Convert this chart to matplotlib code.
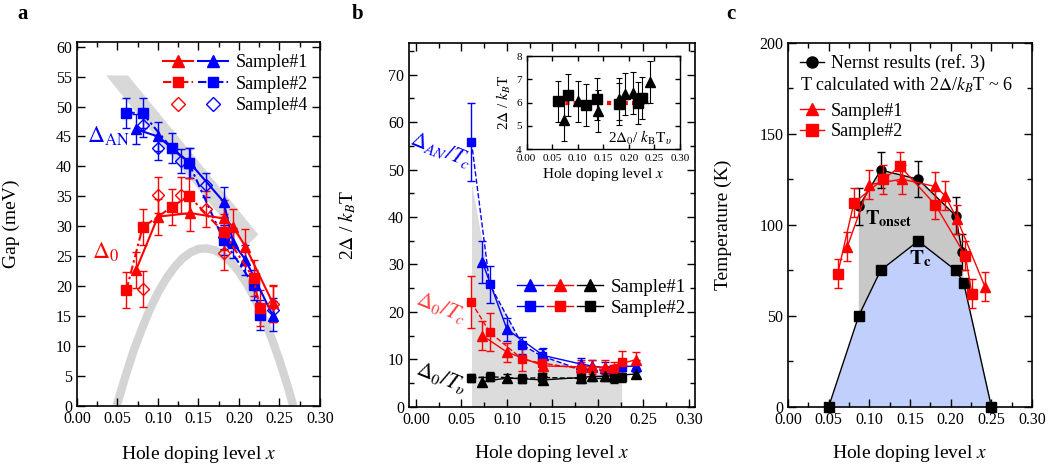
import numpy as np
import matplotlib
matplotlib.use('Agg')
import matplotlib.pyplot as plt
from matplotlib.lines import Line2D
from matplotlib.legend_handler import HandlerTuple
from matplotlib.ticker import MultipleLocator

plt.rcParams['font.family'] = ['Liberation Serif', 'DejaVu Serif']
plt.rcParams['mathtext.fontset'] = 'stix'

# ---------------- data ----------------
x_s1 = [0.073, 0.100, 0.140, 0.181, 0.193, 0.208, 0.242]
x_s2 = [0.061, 0.081, 0.117, 0.138, 0.181, 0.218, 0.226]
x_s4 = [0.081, 0.100, 0.129, 0.159, 0.181, 0.242]

# panel a: gaps (meV)
gapAN_s1 = [46.2, 45.0, 40.5, 34.1, 27.2, 24.4, 15.0]
gapAN_s2 = [49.0, 48.9, 43.0, 40.6, 27.7, 20.2, 15.2]
gapAN_s4 = [46.9, 43.0, 40.9, 36.9, 28.2, 16.0]
gap0_s1 = [22.7, 31.6, 32.2, 31.3, 29.9, 26.6, 17.1]
gap0_s2 = [19.3, 29.8, 33.2, 35.1, 29.0, 21.3, 16.3]
gap0_s4 = [19.5, 35.2, 35.2, 32.9, 25.6, 17.0]
err_blue_a = 2.5
err_red_a = 3.0

# grey guide stripe (Delta_AN trend) and dome (Delta_0 trend) in panel a
stripe_x = [0.036, 0.063, 0.224, 0.208]
stripe_y = [55.2, 55.2, 28.6, 26.5]
dome_x = [0.049, 0.06, 0.07, 0.08, 0.09, 0.10, 0.11, 0.12, 0.13, 0.14, 0.15, 0.16,
          0.17, 0.18, 0.19, 0.20, 0.21, 0.22, 0.23, 0.24, 0.25, 0.26, 0.267]
dome_y = [0.0, 5.0, 9.2, 12.8, 16.1, 18.9, 21.2, 23.1, 24.6, 25.6, 26.2, 26.3,
          26.0, 25.2, 24.0, 22.4, 20.3, 17.8, 14.8, 11.4, 7.6, 3.3, 0.0]

# panel b: 2Delta/kBT ratios
rAN_s1 = [30.5, 16.3, 10.8, 9.0, 8.6, 8.2, 8.6]
rAN_s1_err = [4.5, 2.4, 1.5, 1.3, 1.3, 1.3, 1.3]
rAN_s2 = [55.8, 25.8, 13.0, 10.7, 7.8, 7.6, 8.4]
rAN_s2_err = [8.2, 3.9, 1.8, 1.5, 1.2, 1.2, 1.2]
r0_s1 = [15.0, 11.5, 8.6, 8.4, 8.4, 8.3, 9.9]
r0_s1_err = [3.0, 2.0, 1.5, 1.5, 1.5, 1.5, 1.7]
r0_s2 = [22.0, 15.7, 10.0, 9.2, 8.0, 7.9, 9.5]
r0_s2_err = [5.5, 4.0, 2.5, 1.5, 1.5, 1.5, 2.3]
rv_s1 = [5.27, 6.05, 5.65, 6.15, 6.38, 6.42, 6.9]
rv_s2 = [6.05, 6.33, 5.92, 6.17, 5.95, 5.97, 6.2]
rv_err = 0.9
ratio_ref = 6.0
ratio_ref_x = [0.06, 0.24]

# panel c: temperatures (K)
x_nernst = [0.087, 0.114, 0.160, 0.206, 0.214]
T_nernst = [110, 130, 125, 105, 85]
x_tc = [0.05, 0.087, 0.114, 0.160, 0.206, 0.216, 0.25]
T_tc = [0, 50, 75, 91, 75, 68, 0]
T_s1 = [88, 122, 125, 121, 116, 103, 66]
T_s2 = [73, 112, 125, 132, 111, 83, 62]
err_T = 8
err_nernst = 10

RED = '#ff0000'
BLUE = '#0000ff'

fig = plt.figure(figsize=(10.5, 4.73), dpi=100)
axa = fig.add_axes([0.0733, 0.1423, 0.2314, 0.769])
axb = fig.add_axes([0.3895, 0.1402, 0.2724, 0.7689])
axc = fig.add_axes([0.7505, 0.1402, 0.2324, 0.7695])
axi = fig.add_axes([0.5016, 0.6843, 0.1460, 0.1973])

def style(ax, size=11.5, major=6, minor=3.5):
    ax.tick_params(which='both', direction='in', top=True, right=True,
                   labelsize=size, width=1)
    ax.tick_params(which='major', length=major)
    ax.tick_params(which='minor', length=minor)
    for s in ax.spines.values():
        s.set_linewidth(1.2)

ebkw = dict(capsize=3, elinewidth=1, capthick=1)
dashdot = (0, (4, 1.5, 1.2, 1.5))

# ---------------- panel a ----------------
ax = axa
ax.fill(stripe_x, stripe_y, color='#d8d8d8', lw=0, zorder=0)
ax.plot(dome_x, dome_y, color='#d4d4d4', lw=6, zorder=0, solid_capstyle='butt')
ax.errorbar(x_s1, gapAN_s1, yerr=err_blue_a, color=BLUE, marker='^', ms=7, lw=1.5, **ebkw)
ax.errorbar(x_s2, gapAN_s2, yerr=err_blue_a, color=BLUE, marker='s', ms=6.5, lw=1.5,
            ls=dashdot, **ebkw)
ax.errorbar(x_s4, gapAN_s4, yerr=2.0, color=BLUE, marker='D', ms=6, mfc='none', ls='none', **ebkw)
ax.errorbar(x_s1, gap0_s1, yerr=err_red_a, color=RED, marker='^', ms=7, lw=1.5, **ebkw)
ax.errorbar(x_s2, gap0_s2, yerr=err_red_a, color=RED, marker='s', ms=6.5, lw=1.5,
            ls=dashdot, **ebkw)
ax.errorbar(x_s4, gap0_s4, yerr=err_red_a, color=RED, marker='D', ms=6, mfc='none', ls='none', **ebkw)
ax.text(0.012, 45, r'$\Delta_{\mathrm{AN}}$', color=BLUE, fontsize=17, ha='left', va='center')
ax.text(0.019, 25.7, r'$\Delta_{0}$', color=RED, fontsize=17, ha='left', va='center')
ax.set_xlim(0, 0.3)
ax.set_ylim(0, 60.8)
ax.xaxis.set_major_locator(MultipleLocator(0.05))
ax.xaxis.set_minor_locator(MultipleLocator(0.025))
ax.yaxis.set_major_locator(MultipleLocator(5))
ax.xaxis.set_major_formatter(matplotlib.ticker.FormatStrFormatter('%.2f'))
style(ax)
ax.set_ylabel('Gap (meV)', fontsize=14)
ax.set_xlabel(r'Hole doping level $x$', fontsize=14)
ax.yaxis.set_label_coords(-0.235, 0.5)
ax.xaxis.set_label_coords(0.5, -0.105)

h1 = (Line2D([], [], color=RED, marker='^', ms=8, lw=1.5),
      Line2D([], [], color=BLUE, marker='^', ms=8, lw=1.5))
h2 = (Line2D([], [], color=RED, marker='s', ms=7.5, lw=1.5, ls=dashdot),
      Line2D([], [], color=BLUE, marker='s', ms=7.5, lw=1.5, ls=dashdot))
h4 = (Line2D([], [], color=RED, marker='D', ms=7, mfc='none', ls='none'),
      Line2D([], [], color=BLUE, marker='D', ms=7, mfc='none', ls='none'))
ax.legend([h1, h2, h4], ['Sample#1', 'Sample#2', 'Sample#4'],
          handler_map={tuple: HandlerTuple(ndivide=None, pad=0.3)},
          loc='center left', bbox_to_anchor=(0.355, 0.884), frameon=False,
          handlelength=3.6, handletextpad=0.4, fontsize=13, borderpad=0,
          borderaxespad=0, labelspacing=0.25)

# ---------------- panel b ----------------
ax = axb
cap = np.minimum(np.array(rAN_s2), 47.3)
ax.fill_between(x_s2, 0, cap, color='#dcdcdc', lw=0, zorder=0)
ax.errorbar(x_s2, rAN_s2, yerr=rAN_s2_err, color=BLUE, marker='s', ms=6, lw=1, ls='--', **ebkw)
ax.errorbar(x_s1, rAN_s1, yerr=rAN_s1_err, color=BLUE, marker='^', ms=7, lw=1, **ebkw)
ax.errorbar(x_s2, r0_s2, yerr=r0_s2_err, color=RED, marker='s', ms=6, lw=1, ls='--', **ebkw)
ax.errorbar(x_s1, r0_s1, yerr=r0_s1_err, color=RED, marker='^', ms=7, lw=1, **ebkw)
ax.errorbar(x_s2, rv_s2, yerr=rv_err, color='black', marker='s', ms=6, lw=1, ls='--', **ebkw)
ax.errorbar(x_s1, rv_s1, yerr=rv_err, color='black', marker='^', ms=7, lw=1, **ebkw)
ax.text(0.027, 54.2, r'$\mathit{\Delta}_{AN}/T_c$', color=BLUE, fontsize=16, rotation=-22,
        ha='center', va='center')
ax.text(0.028, 20.8, r'$\mathit{\Delta}_{0}/T_c$', color='#ff4040', fontsize=16, rotation=-22,
        ha='center', va='center')
ax.text(0.028, 6.1, r'$\mathit{\Delta}_{0}/T_\upsilon$', color='black', fontsize=16, rotation=-22,
        ha='center', va='center')
ax.set_xlim(-0.0077, 0.3066)
ax.set_ylim(0, 76.7)
ax.xaxis.set_major_locator(MultipleLocator(0.05))
ax.xaxis.set_minor_locator(MultipleLocator(0.025))
ax.yaxis.set_major_locator(MultipleLocator(10))
ax.yaxis.set_minor_locator(MultipleLocator(5))
ax.xaxis.set_major_formatter(matplotlib.ticker.FormatStrFormatter('%.2f'))
style(ax)
ax.set_ylabel(r'2$\Delta$ / $k_B$T', fontsize=14)
ax.set_xlabel(r'Hole doping level $x$', fontsize=14)
ax.yaxis.set_label_coords(-0.178, 0.5)
ax.xaxis.set_label_coords(0.5, -0.10)
hb1 = tuple(Line2D([], [], color=c, marker='^', ms=8, lw=1) for c in (BLUE, RED, 'black'))
hb2 = tuple(Line2D([], [], color=c, marker='s', ms=7.5, lw=1) for c in (BLUE, RED, 'black'))
ax.legend([hb1, hb2], ['Sample#1', 'Sample#2'],
          handler_map={tuple: HandlerTuple(ndivide=None, pad=0.2)},
          loc='center left', bbox_to_anchor=(0.377, 0.30), frameon=False,
          handlelength=4.6, handletextpad=0.4, fontsize=13.5, borderpad=0,
          borderaxespad=0, labelspacing=0.2)

# inset
ax = axi
ax.plot(ratio_ref_x, [ratio_ref, ratio_ref], color=RED, lw=3, ls=(0, (1, 1)), zorder=1)
ax.errorbar(x_s2, rv_s2, yerr=rv_err, color='black', marker='s', ms=7, ls='none',
            capsize=2, elinewidth=0.8, capthick=0.8, zorder=3)
ax.errorbar(x_s1, rv_s1, yerr=rv_err, color='black', marker='^', ms=7, ls='none',
            capsize=2, elinewidth=0.8, capthick=0.8, zorder=3)
ax.text(0.285, 4.5, r'2$\Delta_0$/ $k_{\mathrm{B}}$T$_\upsilon$', fontsize=11,
        ha='right', va='center')
ax.set_xlim(0, 0.3)
ax.set_ylim(4, 8)
ax.xaxis.set_major_locator(MultipleLocator(0.05))
ax.yaxis.set_major_locator(MultipleLocator(1))
ax.xaxis.set_major_formatter(matplotlib.ticker.FormatStrFormatter('%.2f'))
style(ax, size=8, major=3.5, minor=2)
for s in ax.spines.values():
    s.set_linewidth(1)
ax.set_xlabel(r'Hole doping level $x$', fontsize=11, labelpad=2)
ax.set_ylabel(r'2$\Delta$ / $k_B$T', fontsize=11, labelpad=2)

# ---------------- panel c ----------------
ax = axc
ax.fill_between(x_tc, 0, T_tc, color='#c0cffb', lw=0, zorder=0)
poly_x = list(x_nernst) + [x_tc[5], x_tc[4], x_tc[3], x_tc[2], x_tc[1]]
poly_y = list(T_nernst) + [T_tc[5], T_tc[4], T_tc[3], T_tc[2], T_tc[1]]
ax.fill(poly_x, poly_y, color='#c8c8c8', lw=0, zorder=0)
ax.plot(x_tc, T_tc, color='black', lw=1, marker='s', ms=7, zorder=3, clip_on=False)
ax.errorbar(x_nernst, T_nernst, yerr=err_nernst, color='black', marker='o', ms=6.5, lw=1,
            zorder=3, **ebkw)
ax.errorbar(x_s1, T_s1, yerr=err_T, color=RED, marker='^', ms=7, lw=1, zorder=4, **ebkw)
ax.errorbar(x_s2, T_s2, yerr=err_T, color=RED, marker='s', ms=7, lw=1, zorder=4, **ebkw)
ax.text(0.0945, 100, r'$\mathbf{T}_{\mathbf{onset}}$', fontsize=14.5, ha='left', va='baseline')
ax.text(0.149, 78, r'$\mathbf{T}_{\mathbf{c}}$', fontsize=15, ha='left', va='baseline')
ax.set_xlim(0, 0.3)
ax.set_ylim(0, 200)
ax.xaxis.set_major_locator(MultipleLocator(0.05))
ax.xaxis.set_minor_locator(MultipleLocator(0.025))
ax.yaxis.set_major_locator(MultipleLocator(50))
ax.yaxis.set_minor_locator(MultipleLocator(25))
ax.xaxis.set_major_formatter(matplotlib.ticker.FormatStrFormatter('%.2f'))
style(ax)
ax.set_ylabel('Temperature (K)', fontsize=14)
ax.set_xlabel(r'Hole doping level $x$', fontsize=14)
ax.yaxis.set_label_coords(-0.23, 0.5)
ax.xaxis.set_label_coords(0.5, -0.10)
leg1 = ax.legend([Line2D([], [], color='black', marker='o', ms=8, lw=1)],
                 ['Nernst results (ref. 3)'], loc='center left',
                 bbox_to_anchor=(0.05, 0.943), frameon=False, handlelength=1.3,
                 handletextpad=0.4, fontsize=13, borderpad=0, borderaxespad=0)
ax.add_artist(leg1)
ax.text(0.049, 0.884, r'T calculated with 2$\Delta$/$k_B$T ~ 6', transform=ax.transAxes,
        fontsize=13, ha='left', va='center')
ax.legend([Line2D([], [], color=RED, marker='^', ms=8, lw=1),
           Line2D([], [], color=RED, marker='s', ms=8, lw=1)],
          ['Sample#1', 'Sample#2'], loc='center left', bbox_to_anchor=(0.05, 0.784),
          frameon=False, handlelength=1.3, handletextpad=0.4, fontsize=13,
          borderpad=0, borderaxespad=0, labelspacing=0.2)

# panel letters
for lx, lab in [(0.017, 'a'), (0.335, 'b'), (0.692, 'c')]:
    fig.text(lx, 0.97, lab, fontsize=15, fontweight='bold', ha='left', va='center')

fig.savefig('out.png', dpi=100)
